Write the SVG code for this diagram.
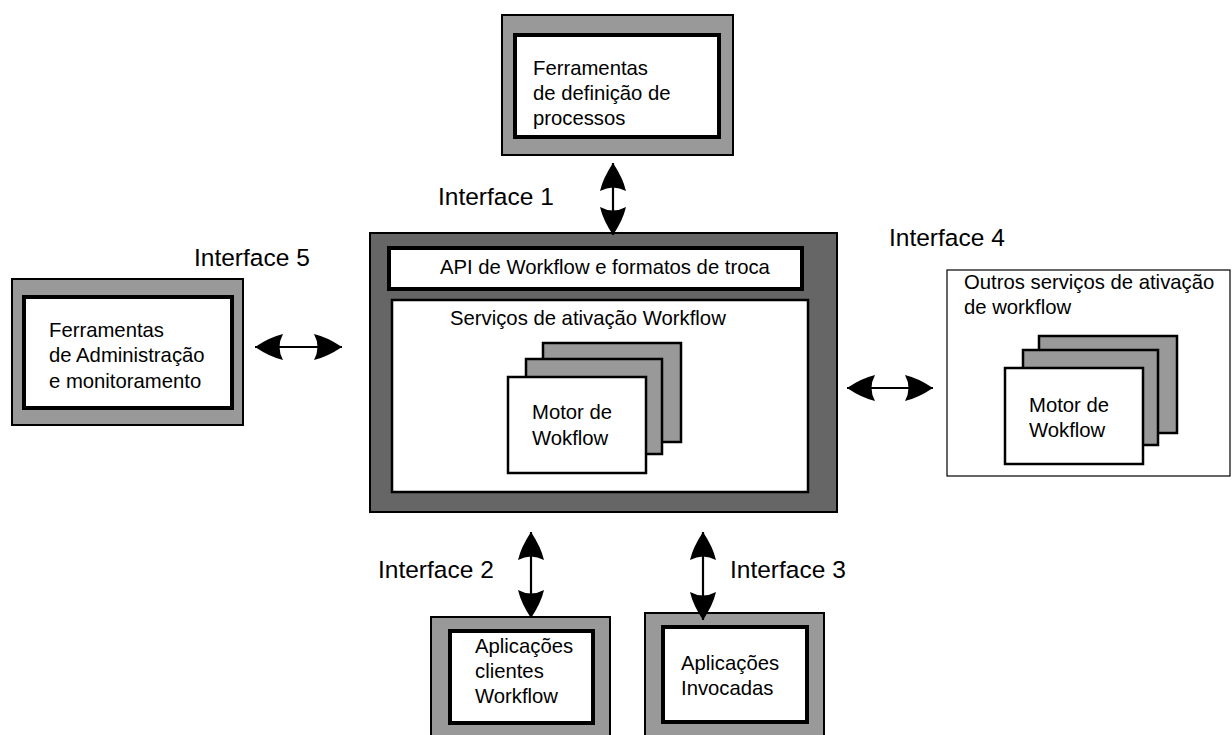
<svg xmlns="http://www.w3.org/2000/svg" width="1232" height="735" viewBox="0 0 1232 735">
<style>
text{font-family:"Liberation Sans",Arial,sans-serif;fill:#000}
.lbl{font-size:20.3px}
.ifc{font-size:24.5px}
.outer{fill:#999;stroke:#000;stroke-width:2}
.inner{fill:#fff;stroke:#000;stroke-width:4}
.card{fill:#999;stroke:#000;stroke-width:2.5}
.front{fill:#fff;stroke:#000;stroke-width:2.5}
.conn{stroke:#000;stroke-width:2.2;fill:none;marker-start:url(#ah);marker-end:url(#ah)}
</style>
<defs>
<marker id="ah" markerUnits="userSpaceOnUse" markerWidth="28" markerHeight="26" refX="28" refY="13" orient="auto-start-reverse" viewBox="0 0 28 26">
<path d="M28,13 Q13,3 0,0 Q7,13 0,26 Q13,23 28,13 Z" fill="#000"/>
</marker>
</defs>
<rect width="1232" height="735" fill="#fff"/>

<g id="n-definicao">
<rect class="outer" x="502" y="15" width="231" height="140"/>
<rect class="inner" x="515" y="35" width="204" height="102"/>
<text class="lbl" x="533" y="75">Ferramentas</text>
<text class="lbl" x="533" y="100">de definição de</text>
<text class="lbl" x="533" y="125">processos</text>
</g>

<g id="n-admin">
<rect class="outer" x="12" y="279" width="231" height="146"/>
<rect class="inner" x="24" y="297" width="208" height="111"/>
<text class="lbl" x="49" y="337">Ferramentas</text>
<text class="lbl" x="49" y="362">de Administração</text>
<text class="lbl" x="49" y="388">e monitoramento</text>
</g>

<g id="n-engine">
<rect x="370" y="233" width="467" height="279" fill="#666" stroke="#000" stroke-width="2"/>
<rect x="389" y="248" width="413" height="41" fill="#fff" stroke="#000" stroke-width="4"/>
<text class="lbl" x="440" y="274">API de Workflow e formatos de troca</text>
<rect x="392" y="300" width="416" height="192" fill="#fff" stroke="#000" stroke-width="2.5"/>
<text class="lbl" x="450" y="325">Serviços de ativação Workflow</text>
<rect class="card" x="543" y="343" width="138" height="99"/>
<rect class="card" x="526" y="359" width="136" height="95"/>
<rect class="front" x="508" y="377" width="138" height="96"/>
<text class="lbl" x="532" y="419">Motor de</text>
<text class="lbl" x="532" y="445">Wokflow</text>
</g>

<g id="n-outros">
<rect x="947" y="270" width="283" height="206" fill="#fff" stroke="#000" stroke-width="1.2"/>
<text class="lbl" x="964" y="289">Outros serviços de ativação</text>
<text class="lbl" x="964" y="314">de workflow</text>
<rect class="card" x="1039" y="336" width="138" height="97"/>
<rect class="card" x="1023" y="350" width="135" height="95"/>
<rect class="front" x="1005" y="368" width="138" height="96"/>
<text class="lbl" x="1029" y="412">Motor de</text>
<text class="lbl" x="1029" y="437">Wokflow</text>
</g>

<g id="n-clientes">
<rect class="outer" x="431" y="617" width="179" height="125"/>
<rect class="inner" x="450" y="631" width="143" height="92"/>
<text class="lbl" x="475" y="653">Aplicações</text>
<text class="lbl" x="475" y="678">clientes</text>
<text class="lbl" x="475" y="703">Workflow</text>
</g>

<g id="n-invocadas">
<rect class="outer" x="645" y="613" width="179" height="129"/>
<rect class="inner" x="663" y="627" width="144" height="95"/>
<text class="lbl" x="681" y="670">Aplicações</text>
<text class="lbl" x="681" y="695">Invocadas</text>
</g>

<g id="labels">
<text class="ifc" x="438" y="205">Interface 1</text>
<text class="ifc" x="194" y="266">Interface 5</text>
<text class="ifc" x="889" y="246">Interface 4</text>
<text class="ifc" x="378" y="578">Interface 2</text>
<text class="ifc" x="730" y="578">Interface 3</text>
</g>

<g id="connectors">
<line class="conn" x1="613" y1="163" x2="613" y2="235"/>
<line class="conn" x1="255" y1="347" x2="342" y2="347"/>
<line class="conn" x1="847" y1="388" x2="933" y2="388"/>
<line class="conn" x1="531" y1="532" x2="531" y2="618"/>
<line class="conn" x1="703" y1="532" x2="703" y2="620"/>
</g>
</svg>
